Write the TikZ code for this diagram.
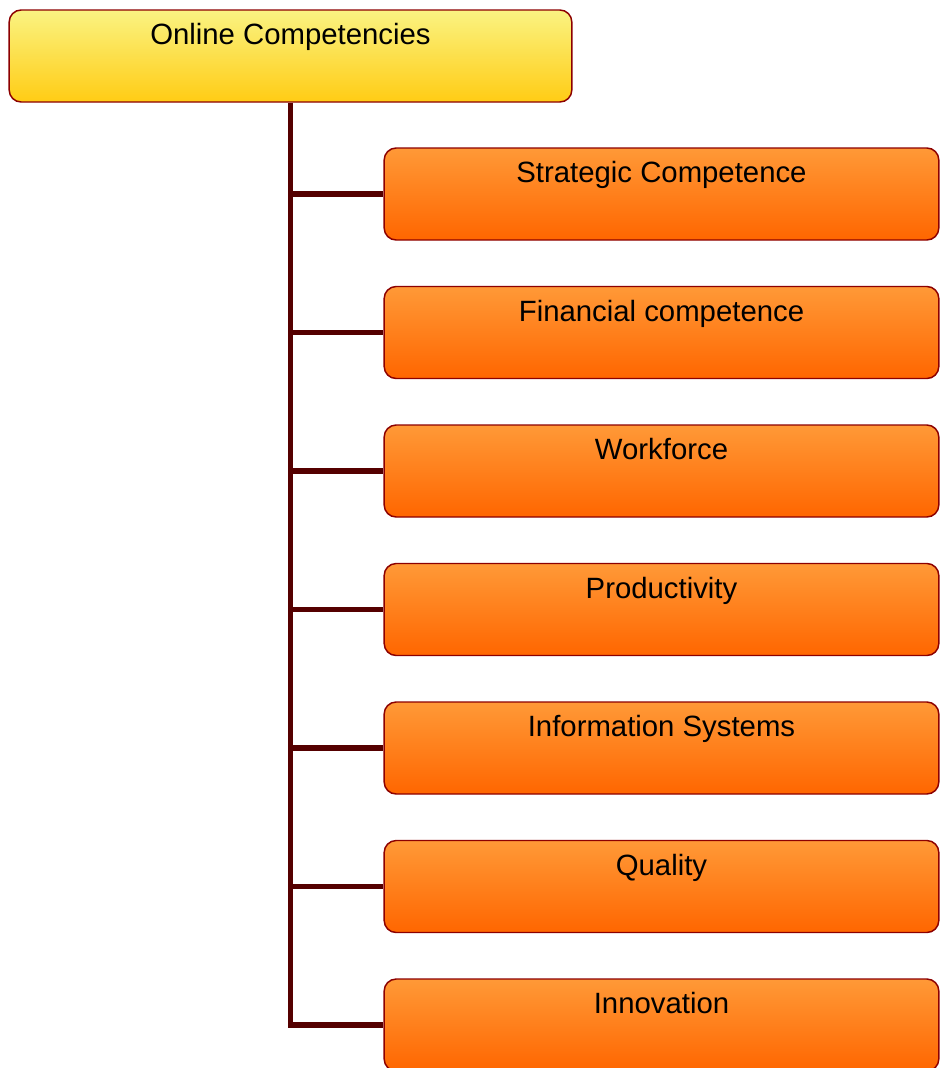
\documentclass[tikz,border=0pt]{standalone}
\usepackage{fontspec}
\setmainfont{Liberation Sans}

\definecolor{boxline}{RGB}{140,0,0}
\definecolor{treeline}{RGB}{85,0,0}

\tikzset{
	box/.style={draw=boxline, line width=1.1pt, rounded corners=9pt,
		inner xsep=0pt, inner ysep=0pt,
		text height=26pt, text depth=43pt, minimum height=69pt,
		font=\fontsize{22}{26}\selectfont},
	rootbox/.style={box, minimum width=422pt,
		top color={rgb,255:red,250;green,243;blue,130}, bottom color={rgb,255:red,255;green,204;blue,20}},
	itembox/.style={box, minimum width=416pt,
		top color={rgb,255:red,255;green,153;blue,55}, bottom color={rgb,255:red,255;green,102;blue,0}},
	branch/.style={draw=treeline, line width=4.1pt}}

\begin{document}
\begin{tikzpicture}[x=0.75pt,y=0.75pt,yscale=-1,xscale=1]
	\useasboundingbox (0,0) rectangle (941,1068);
	\clip (0,0) rectangle (941,1068);

	% Root
	\node [rootbox] (online) at (290.5,56) {Online Competencies};

	% Items
	\node [itembox] (strategic) at (661.5,194) {Strategic Competence};
	\node [itembox] (financial) at (661.5,332.5) {Financial competence};
	\node [itembox] (workforce) at (661.5,471) {Workforce};
	\node [itembox] (productivity) at (661.5,609.5) {Productivity};
	\node [itembox] (infosys) at (661.5,748) {Information Systems};
	\node [itembox] (quality) at (661.5,886.5) {Quality};
	\node [itembox] (innovation) at (661.5,1025) {Innovation};

	% Tree lines
	\draw [branch] (online.south) |- (innovation.west);
	\draw [branch] (online.south |- strategic.west) -- (strategic.west);
	\draw [branch] (online.south |- financial.west) -- (financial.west);
	\draw [branch] (online.south |- workforce.west) -- (workforce.west);
	\draw [branch] (online.south |- productivity.west) -- (productivity.west);
	\draw [branch] (online.south |- infosys.west) -- (infosys.west);
	\draw [branch] (online.south |- quality.west) -- (quality.west);

\end{tikzpicture}
\end{document}
